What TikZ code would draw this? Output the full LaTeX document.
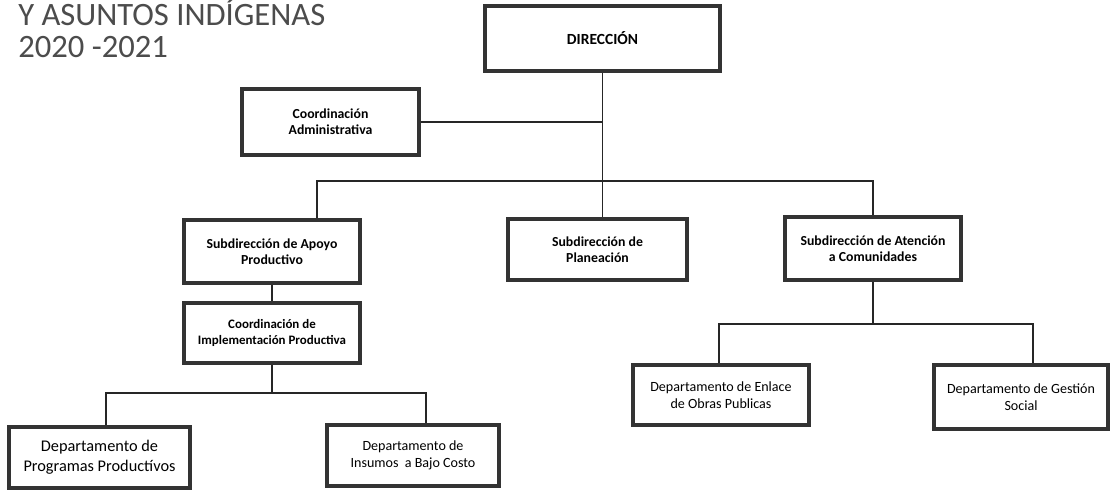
\documentclass[tikz,border=0pt]{standalone}
\usepackage{fontspec}
\setmainfont{Carlito}
\usetikzlibrary{calc}

\begin{document}
\begin{tikzpicture}[x=0.025cm,y=-0.025cm,
        unit/.style={draw=black!80,line width=2.8pt,fill=white,align=center,inner sep=2pt,
                     font=\bfseries\fontsize{9.8}{11.4}\selectfont},
        depto/.style={unit,font=\fontsize{10}{12.4}\selectfont},
        link/.style={draw=black!85,line width=0.8pt}]
        \useasboundingbox (0,0) rectangle (1118,491);

        % titulo
        \node[anchor=base west,inner sep=0pt,align=left,text=black!70,font=\fontsize{23.2}{23.2}\selectfont] (titulo) at (18,58) {Y ASUNTOS INDÍGENAS\\2020 -2021};

        % recuadros
        \node[unit,minimum width=5.875cm,minimum height=1.625cm,font=\bfseries\fontsize{11}{13}\selectfont] (dir) at (602.5,38.5) {DIRECCIÓN};
        \node[unit,minimum width=4.425cm,minimum height=1.65cm] (coordadm) at (330.5,122) {Coordinación\\Administrativa};
        \node[unit,minimum width=4.4cm,minimum height=1.575cm] (subapoyo) at (272,251.5) {Subdirección de Apoyo\\Productivo};
        \node[unit,minimum width=4.4cm,minimum height=1.5cm,font=\bfseries\fontsize{9.2}{11}\selectfont] (coordimpl) at (272,333) {Coordinación de\\Implementación Productiva};
        \node[unit,minimum width=4.475cm,minimum height=1.525cm] (subplan) at (597.5,249.5) {Subdirección de\\Planeación};
        \node[unit,minimum width=4.4cm,minimum height=1.575cm] (subaten) at (873,248.5) {Subdirección de Atención\\a Comunidades};
        \node[depto,minimum width=4.525cm,minimum height=1.525cm,font=\fontsize{11.6}{14}\selectfont] (depprog) at (99.5,457.5) {Departamento de\\Programas Productívos};
        \node[depto,minimum width=4.3cm,minimum height=1.525cm] (depins) at (413,455.5) {Departamento de\\Insumos~~a Bajo Costo};
        \node[depto,minimum width=4.4cm,minimum height=1.5cm] (depenl) at (721,395) {Departamento de Enlace\\de Obras Publicas};
        \node[depto,minimum width=4.35cm,minimum height=1.6cm] (depges) at (1021,397) {Departamento de Gestión\\Social};

        % lineas
        \coordinate (busl) at (317,181);
        \coordinate (busr) at (873,181);
        \coordinate (busll) at (106,393);
        \coordinate (buslr) at (426,393);
        \coordinate (busrl) at (719,324);
        \coordinate (busrr) at (1033,324);

        \draw[link] (dir.south) -- (dir.south |- subplan.north);
        \draw[link] (coordadm.east) -- (coordadm.east -| dir.south);
        \draw[link] (subapoyo.north -| busl) -- (busl) -- (busr) -- (subaten.north);
        \draw[link] (subapoyo.south) -- (coordimpl.north);
        \draw[link] (coordimpl.south) -- (coordimpl.south |- busll);
        \draw[link] (depprog.north -| busll) -- (busll) -- (buslr) -- (depins.north -| buslr);
        \draw[link] (subaten.south) -- (subaten.south |- busrl);
        \draw[link] (depenl.north -| busrl) -- (busrl) -- (busrr) -- (depges.north -| busrr);
    \end{tikzpicture}
\end{document}
